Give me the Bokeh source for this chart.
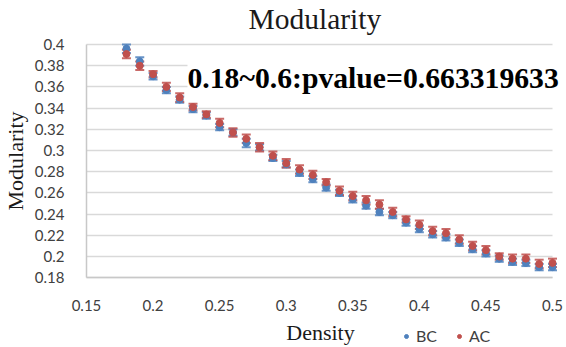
from bokeh.plotting import figure
from bokeh.models import (ColumnDataSource, Whisker, TeeHead, Label, Legend, LegendItem,
                          FixedTicker, Range1d, Grid)
from bokeh.embed import file_html
from bokeh.resources import INLINE

# ---- data ----
density = [0.18, 0.19, 0.20, 0.21, 0.22, 0.23, 0.24, 0.25, 0.26, 0.27, 0.28,
           0.29, 0.30, 0.31, 0.32, 0.33, 0.34, 0.35, 0.36, 0.37, 0.38, 0.39,
           0.40, 0.41, 0.42, 0.43, 0.44, 0.45, 0.46, 0.47, 0.48, 0.49, 0.50]
bc = [0.396, 0.384, 0.370, 0.357, 0.348, 0.339, 0.333, 0.322, 0.317, 0.307, 0.303,
      0.293, 0.287, 0.279, 0.273, 0.265, 0.260, 0.254, 0.248, 0.242, 0.239, 0.232,
      0.226, 0.221, 0.218, 0.213, 0.207, 0.203, 0.198, 0.195, 0.194, 0.190, 0.190]
ac = [0.391, 0.380, 0.372, 0.360, 0.350, 0.341, 0.334, 0.326, 0.317, 0.311, 0.303,
      0.295, 0.288, 0.282, 0.277, 0.270, 0.262, 0.257, 0.253, 0.249, 0.242, 0.235,
      0.230, 0.224, 0.222, 0.216, 0.210, 0.206, 0.200, 0.198, 0.198, 0.193, 0.194]
bc_err = [0.004, 0.004, 0.003, 0.003, 0.003, 0.003, 0.003, 0.003, 0.003, 0.004, 0.003,
          0.003, 0.003, 0.003, 0.003, 0.003, 0.003, 0.003, 0.003, 0.003, 0.003, 0.003,
          0.003, 0.003, 0.003, 0.003, 0.003, 0.003, 0.003, 0.003, 0.003, 0.003, 0.003]
ac_err = [0.004, 0.004, 0.003, 0.004, 0.004, 0.003, 0.003, 0.004, 0.004, 0.004, 0.004,
          0.004, 0.004, 0.004, 0.004, 0.003, 0.004, 0.004, 0.004, 0.004, 0.004, 0.003,
          0.004, 0.004, 0.004, 0.004, 0.004, 0.004, 0.003, 0.004, 0.004, 0.004, 0.004]
x_ticks = [0.15, 0.2, 0.25, 0.3, 0.35, 0.4, 0.45, 0.5]
x_tick_labels = ["0.15", "0.2", "0.25", "0.3", "0.35", "0.4", "0.45", "0.5"]
y_ticks = [0.18, 0.2, 0.22, 0.24, 0.26, 0.28, 0.3, 0.32, 0.34, 0.36, 0.38, 0.4]
y_tick_labels = ["0.18", "0.2", "0.22", "0.24", "0.26", "0.28", "0.3", "0.32",
                 "0.34", "0.36", "0.38", "0.4"]
series_names = ["BC", "AC"]
title_text = "Modularity"
x_label = "Density"
y_label = "Modularity"
annotation = "0.18~0.6:pvalue=0.663319633"

BLUE = "#4F81BD"
RED = "#C0504D"
SERIF = "Liberation Serif"
SANS = "Lato"

X_MIN, X_MAX = 0.15, 0.5
Y_MIN, Y_MAX = 0.18, 0.4
# The plotting frame covers the page below the title, so nothing
# (tick labels, legend row) gets clipped; the axes are pinned at X_MIN / Y_MIN.
XS = (X_MAX - X_MIN) / 466.0   # data units per pixel
YS = (Y_MAX - Y_MIN) / 234.0
TOP = 33                       # frame top (px); Y_MAX sits at 43 px
x_range = Range1d(X_MIN - 86 * XS, X_MAX + 14 * XS)
y_range = Range1d(Y_MIN - 70 * YS, Y_MAX + (43 - TOP) * YS)

p = figure(width=566, height=347, output_backend="svg", toolbar_location=None,
           x_range=x_range, y_range=y_range,
           min_border_left=0, min_border_right=0, min_border_top=TOP,
           min_border_bottom=0)
p.background_fill_color = "white"
p.border_fill_color = "white"
p.outline_line_color = None

p.title.text = title_text
p.title.text_font = SERIF
p.title.text_font_size = "29.5px"
p.title.text_font_style = "normal"
p.title.align = "left"
p.title.offset = 248
p.title.standoff = 0
p.title.text_color = "#1a1a1a"

# axes
for ax in (p.xaxis[0], p.yaxis[0]):
    ax.major_tick_line_color = None
    ax.minor_tick_line_color = None
    ax.axis_line_color = "#C8C8C8"
    ax.axis_line_width = 1.5
    ax.major_label_text_font = SANS
    ax.major_label_text_font_size = "15px"
    ax.major_label_text_color = "#404040"
    ax.axis_label_text_font = SERIF
    ax.axis_label_text_font_size = "22px"
    ax.axis_label_text_font_style = "normal"
    ax.axis_label_text_color = "#1a1a1a"

p.xaxis.ticker = FixedTicker(ticks=x_ticks)
p.xaxis.major_label_overrides = {t: l for t, l in zip(x_ticks, x_tick_labels)}
p.xaxis.fixed_location = Y_MIN
p.xaxis.bounds = (X_MIN, X_MAX)
p.yaxis.ticker = FixedTicker(ticks=y_ticks)
p.yaxis.major_label_overrides = {t: l for t, l in zip(y_ticks, y_tick_labels)}
p.yaxis.fixed_location = X_MIN
p.yaxis.bounds = (Y_MIN, Y_MAX)
p.yaxis.axis_label = y_label
p.xaxis.major_label_standoff = 16
p.yaxis.major_label_standoff = 16
p.yaxis.axis_label_standoff = 4

p.xgrid.grid_line_color = None
yg = p.ygrid[0]
yg.grid_line_color = "#D9D9D9"
yg.grid_line_width = 1.5
if "cross_bounds" in Grid.properties():
    yg.cross_bounds = (X_MIN, X_MAX)

renderers = []
for vals, errs, color in ((bc, bc_err, BLUE), (ac, ac_err, RED)):
    src = ColumnDataSource(dict(
        x=density, y=vals,
        upper=[v + e for v, e in zip(vals, errs)],
        lower=[v - e for v, e in zip(vals, errs)]))
    w = Whisker(base="x", upper="upper", lower="lower", source=src,
                line_color=color, line_width=1.5, line_alpha=0.85,
                upper_head=TeeHead(size=9, line_color=color, line_width=2, line_alpha=0.85),
                lower_head=TeeHead(size=9, line_color=color, line_width=2, line_alpha=0.85))
    p.add_layout(w)
    r = p.scatter("x", "y", source=src, size=7, fill_color=color, line_color=color)
    renderers.append(r)

lbl = Label(x=X_MIN + 101 * XS, y=0.368, text=annotation, text_font=SERIF,
            text_font_size="29.7px", text_font_style="bold", text_color="black",
            text_baseline="middle", background_fill_color="white")
p.add_layout(lbl)

# x-axis title, on the same row as the legend (as in the reference)
xlab = Label(x=X_MIN + 234 * XS, y=Y_MIN - 55 * YS, text=x_label,
             text_font=SERIF, text_font_size="22px", text_color="#1a1a1a",
             text_align="center", text_baseline="middle")
p.add_layout(xlab)

legend = Legend(items=[LegendItem(label=n, renderers=[r]) for n, r in zip(series_names, renderers)],
                orientation="horizontal", location=(401, 2),
                label_text_font=SANS, label_text_font_size="16px", label_text_color="#404040",
                glyph_width=10, glyph_height=10, spacing=17, padding=2,
                border_line_color=None, background_fill_alpha=0)
p.add_layout(legend, "center")

open("out.html", "w").write(file_html(p, INLINE))
